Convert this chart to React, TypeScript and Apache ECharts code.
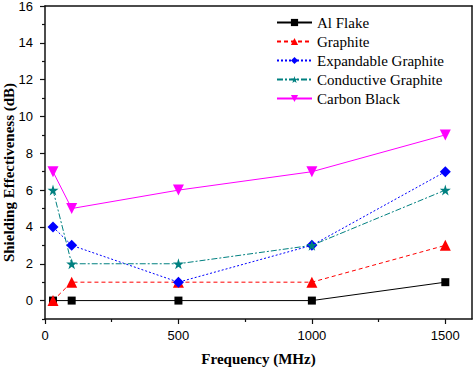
import React, { useEffect, useRef } from "react";
import * as echarts from "echarts";

const frequencies = [30, 100, 500, 1000, 1500];
const alFlake = [0, 0, 0, 0, 1];
const graphite = [0, 1, 1, 1, 3];
const expandableGraphite = [4, 3, 1, 3, 7];
const conductiveGraphite = [6, 2, 2, 3, 6];
const carbonBlack = [7, 5, 6, 7, 9];

const seriesNames = ["Al Flake", "Graphite", "Expandable Graphite", "Conductive Graphite", "Carbon Black"];

const xMajorTicks = [0, 500, 1000, 1500];
const xMinorTicks = [250, 750, 1250];
const yMajorTicks = [0, 2, 4, 6, 8, 10, 12, 14, 16];
const yMinorTicks = [-1, 1, 3, 5, 7, 9, 11, 13, 15];

const STAR = "path://M50,0 L61,35 L98,35 L68,57 L79,91 L50,70 L21,91 L32,57 L2,35 L39,35 Z";

const pairs = (ys: number[]) => frequencies.map((x, i) => [x, ys[i]]);

export default function App() {
  const ref = useRef<HTMLDivElement>(null);
  useEffect(() => {
    if (!ref.current) return;
    const chart = echarts.init(ref.current, null, { renderer: "svg" });
    const axisColor = "#111";
    const sans = "Liberation Sans";
    const serif = "'Liberation Serif', 'Times New Roman', serif";
    const legendText = { fontFamily: serif, fontSize: 15, color: "#000" };
    const mkSeries = (
      name: string,
      ys: number[],
      color: string,
      symbol: string,
      symbolSize: number,
      type: any,
      rotate = 0
    ) => ({
      name,
      type: "line",
      data: pairs(ys),
      xAxisIndex: 0,
      yAxisIndex: 0,
      symbol,
      symbolSize,
      symbolRotate: rotate,
      itemStyle: { color },
      lineStyle: { color, width: 1, type },
      z: 3,
    });
    chart.setOption({
      animation: false,
      backgroundColor: "#fff",
      textStyle: { fontFamily: serif },
      grid: { left: 45, top: 6, right: 1, bottom: 49, containLabel: false, outerBoundsMode: "none" },
      legend: {
        orient: "vertical",
        left: 276,
        top: 15,
        padding: 0,
        itemGap: 4,
        itemWidth: 35,
        itemHeight: 9,
        textStyle: legendText,
        data: seriesNames.map((n) => ({ name: n, textStyle: legendText })),
      },
      xAxis: [
        {
          type: "value",
          min: 0,
          max: 1600,
          position: "bottom",
          name: "Frequency (MHz)",
          nameLocation: "middle",
          nameGap: 32,
          nameMoveOverlap: false,
          nameTextStyle: { fontFamily: serif, fontWeight: "bold", fontSize: 15, color: "#000" },
          axisLine: { onZero: false, lineStyle: { color: axisColor, width: 1.5 } },
          axisTick: { customValues: xMajorTicks, length: 5, lineStyle: { color: axisColor, width: 1.2 } },
          axisLabel: {
            customValues: xMajorTicks,
            formatter: (v: number) => String(v),
            fontFamily: sans,
            fontSize: 13,
            color: "#000",
            margin: 10,
          },
          splitLine: { show: false },
        },
        {
          type: "value",
          min: 0,
          max: 1600,
          position: "bottom",
          axisLine: { show: false, onZero: false },
          axisTick: { customValues: xMinorTicks, length: 3, lineStyle: { color: axisColor, width: 1.2 } },
          axisLabel: { show: false },
          splitLine: { show: false },
        },
        {
          type: "value",
          min: 0,
          max: 1600,
          position: "top",
          axisLine: { onZero: false, lineStyle: { color: axisColor, width: 1.5 } },
          axisTick: { show: false },
          axisLabel: { show: false },
          splitLine: { show: false },
        },
      ],
      yAxis: [
        {
          type: "value",
          min: -1,
          max: 16,
          position: "left",
          name: "Shielding Effectiveness (dB)",
          nameLocation: "middle",
          nameGap: 29,
          nameMoveOverlap: false,
          nameTextStyle: { fontFamily: serif, fontWeight: "bold", fontSize: 15, color: "#000", padding: [0, 20, 0, 0] },
          axisLine: { onZero: false, lineStyle: { color: axisColor, width: 1.5 } },
          axisTick: { customValues: yMajorTicks, length: 5, lineStyle: { color: axisColor, width: 1.2 } },
          axisLabel: {
            customValues: yMajorTicks,
            formatter: (v: number) => String(v),
            fontFamily: sans,
            fontSize: 13,
            color: "#000",
            margin: 12,
          },
          splitLine: { show: false },
        },
        {
          type: "value",
          min: -1,
          max: 16,
          position: "left",
          axisLine: { show: false, onZero: false },
          axisTick: { customValues: yMinorTicks, length: 3, lineStyle: { color: axisColor, width: 1.2 } },
          axisLabel: { show: false },
          splitLine: { show: false },
        },
        {
          type: "value",
          min: -1,
          max: 16,
          position: "right",
          axisLine: { onZero: false, lineStyle: { color: axisColor, width: 1.5 } },
          axisTick: { show: false },
          axisLabel: { show: false },
          splitLine: { show: false },
        },
      ],
      series: [
        mkSeries(seriesNames[0], alFlake, "#000000", "rect", 8, "solid"),
        mkSeries(seriesNames[1], graphite, "#ff0000", "triangle", 11, [4, 3]),
        mkSeries(seriesNames[2], expandableGraphite, "#0000ff", "diamond", 11, [2, 2]),
        mkSeries(seriesNames[3], conductiveGraphite, "#008080", STAR, 11, [6, 2, 2, 2]),
        mkSeries(seriesNames[4], carbonBlack, "#ff00ff", "triangle", 11, "solid", 180),
      ],
    });
    return () => chart.dispose();
  }, []);
  return (
    <div
      ref={ref}
      style={{ position: "fixed", left: 0, top: 0, width: 473, height: 368 }}
    />
  );
}
